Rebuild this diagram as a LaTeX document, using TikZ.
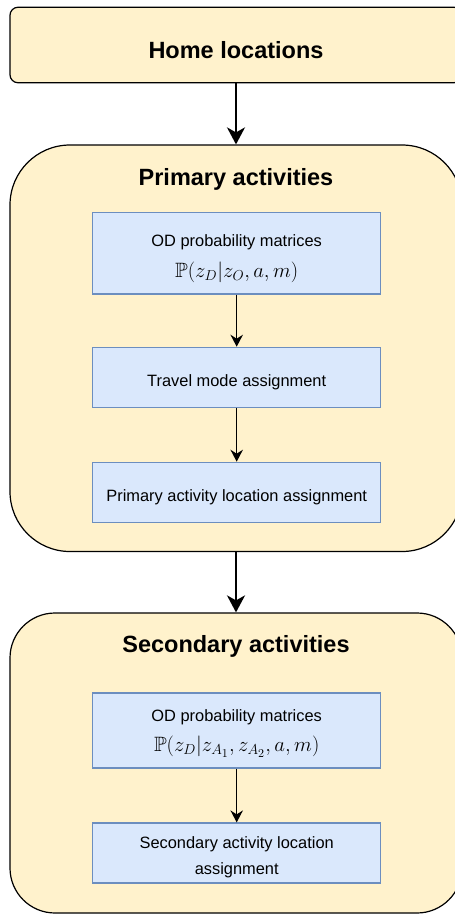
\RequirePackage{fix-cm}
\documentclass[tikz,border=0pt]{standalone}
\usepackage{amssymb}
\usepackage{graphicx}
\usepackage[no-math]{fontspec}
\setmainfont{Liberation Sans}
\usetikzlibrary{arrows.meta}
\definecolor{contfill}{HTML}{FFF2CC}
\definecolor{boxfill}{HTML}{DAE8FC}
\definecolor{boxdraw}{HTML}{6C8EBF}
\begin{document}
\begin{tikzpicture}[x=1pt,y=-1pt,
  container/.style={draw=black, line width=1.2pt, fill=contfill, inner sep=0pt, minimum width=452pt},
  stepbox/.style={draw=boxdraw, line width=1.2pt, fill=boxfill, minimum width=288pt, inner sep=0pt},
  title/.style={font=\fontsize{23.5}{28}\selectfont\bfseries, anchor=base, inner sep=0pt},
  txt/.style={font=\fontsize{16.4}{20}\selectfont, anchor=base, inner sep=0pt},
  mth/.style={font=\fontsize{17.28}{21}\selectfont, anchor=base, inner sep=0pt},
  bigarrow/.style={line width=2.2pt, -{Stealth[length=17pt,width=18pt,inset=5pt]}},
  smallarrow/.style={line width=1.2pt, -{Stealth[length=12pt,width=12.5pt,inset=4pt]}},
]
\useasboundingbox (0,0) rectangle (455,914);
\clip (0,0) rectangle (455,914);

% containers
\node[container, rounded corners=8pt, minimum height=75.5pt] (home) at (236,45) {};
\node[container, rounded corners=60pt, minimum height=406.5pt] (prim) at (236,348.25) {};
\node[container, rounded corners=45pt, minimum height=300pt] (sec) at (236,763) {};

% inner boxes
\node[stepbox, minimum height=81.3pt] (b1) at (236.7,253.3) {};
\node[stepbox, minimum height=60pt] (b2) at (236.7,377.3) {};
\node[stepbox, minimum height=60pt] (b3) at (236.7,492.3) {};
\node[stepbox, minimum height=75pt] (b4) at (236.7,730.5) {};
\node[stepbox, minimum height=60pt] (b5) at (236.7,853) {};

% connectors
\draw[bigarrow] (home.south) -- (prim.north);
\draw[bigarrow] (prim.south) -- (sec.north);
\draw[smallarrow] (b1.south) -- (b2.north);
\draw[smallarrow] (b2.south) -- (b3.north);
\draw[smallarrow] (b4.south) -- (b5.north);

% texts
\node[title] (homet) at (236,58.3) {Home locations};
\node[title] (primt) at (236,185) {Primary activities};
\node[title] (sect) at (236,652.7) {Secondary activities};
\node[txt] (b1a) at (236.7,246.7) {OD probability matrices};
\node[mth] (b1b) at (236.7,277) {\scalebox{1.2}{$\mathbb{P}(z_D|z_O,a,m)$}};
\node[txt] (b2t) at (236.7,386) {Travel mode assignment};
\node[txt] (b3t) at (236.7,501.7) {Primary activity location assignment};
\node[txt] (b4a) at (236.7,721.7) {OD probability matrices};
\node[mth] (b4b) at (236.7,751.7) {\scalebox{1.2}{$\mathbb{P}(z_D|z_{A_1},z_{A_2},a,m)$}};
\node[txt] (b5a) at (236.7,848.3) {Secondary activity location};
\node[txt] (b5b) at (236.7,874.5) {assignment};
\end{tikzpicture}
\end{document}
